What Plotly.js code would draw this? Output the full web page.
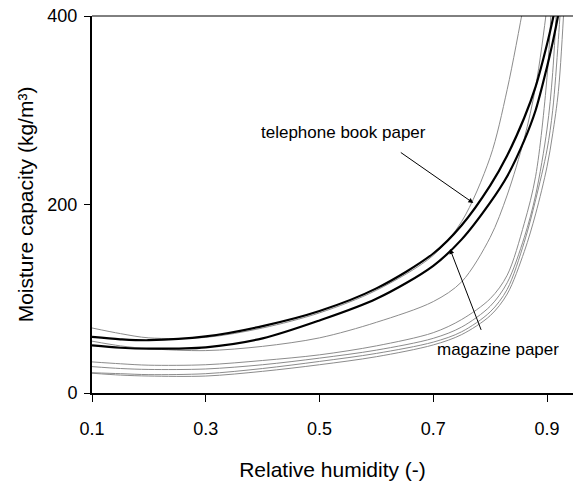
<!DOCTYPE html>
<html>
<head>
<meta charset="utf-8">
<script src="https://cdn.plot.ly/plotly-3.0.1.min.js"></script>
<style>
  html, body { margin: 0; padding: 0; background: #ffffff; }
  #chart { width: 573px; height: 485px; }
</style>
</head>
<body>
<div id="chart"></div>
<script>
// Relative humidity grid shared by all curves
const rh = [0.1, 0.15, 0.2, 0.3, 0.4, 0.5, 0.6, 0.7, 0.75, 0.8, 0.83, 0.86, 0.88, 0.9, 0.91, 0.92, 0.93, 0.94];

// Moisture capacity (kg/m³) of the two highlighted papers
const telephoneBook = [59.5, 57, 56, 60, 71, 87, 111, 148, 178, 220, 252, 292, 325, 370, 396, 425, 458, 495];
const magazine      = [50.5, 48, 47, 48.5, 58, 77, 100, 135, 163, 202, 230, 268, 300, 346, 372, 402, 436, 472];

// Other paper grades
const paperG1 = [69, 63, 58.5, 59, 69, 85, 109, 146, 182, 250, 322, 415, 480, null, null, null, null, null];
const paperG2 = [55, 50, 47, 45, 49.5, 58.5, 75, 97, 118, 165, 210, 270, 325, 410, 470, null, null, null];
const paperL1 = [33, 31, 29.5, 30, 34.5, 40.5, 50, 64, 78, 100, 125, 180, 230, 335, 440, null, null, null];
const paperL2 = [28, 26, 25, 25.5, 30, 37, 45.5, 58, 70, 92, 117, 165, 210, 280, 340, 450, null, null];
const paperL3 = [21.5, 20.5, 19.5, 20.5, 26, 33.5, 42, 54, 65, 86, 110, 160, 205, 258, 300, 375, 470, null];
const paperL4 = [21, 19, 18, 18, 23, 30, 38.5, 51, 62, 82, 105, 150, 190, 240, 275, 320, 410, 520];

const xTicks = [0.1, 0.3, 0.5, 0.7, 0.9];
const yTicks = [0, 200, 400];

const FONT = 'Liberation Sans, Arial, sans-serif';

function curve(y, color, width) {
  return {
    x: rh, y: y, type: 'scatter', mode: 'lines',
    line: { color: color, width: width, shape: 'spline', smoothing: 0.9 },
    connectgaps: false, hoverinfo: 'skip', showlegend: false
  };
}

const data = [
  curve(paperG1, '#8c8c8c', 1),
  curve(paperG2, '#8c8c8c', 1),
  curve(paperL1, '#8c8c8c', 1),
  curve(paperL2, '#8c8c8c', 1),
  curve(paperL3, '#8c8c8c', 1),
  curve(paperL4, '#8c8c8c', 1),
  curve(telephoneBook, '#000000', 2.2),
  curve(magazine, '#000000', 2.2)
];

const layout = {
  width: 573, height: 485,
  margin: { l: 92, r: 0, t: 16, b: 92 },
  paper_bgcolor: '#ffffff', plot_bgcolor: '#ffffff',
  font: { family: FONT, color: '#000000' },
  xaxis: {
    range: [0.1, 0.9457],
    tickvals: xTicks, ticktext: xTicks.map(v => v.toFixed(1)),
    ticks: 'outside', ticklen: 7, tickwidth: 1, tickcolor: '#000000',
    ticklabelstandoff: 11,
    showline: true, linecolor: '#000000', linewidth: 2,
    showgrid: false, zeroline: false,
    tickfont: { family: FONT, size: 18, color: '#000000' },
    title: { text: 'Relative humidity (-)', font: { family: FONT, size: 21, color: '#000000' }, standoff: 25 }
  },
  yaxis: {
    range: [0, 400],
    tickvals: yTicks,
    ticks: 'outside', ticklen: 6, tickwidth: 1, tickcolor: '#000000',
    ticklabelstandoff: 3,
    showline: true, linecolor: '#000000', linewidth: 2,
    showgrid: false, zeroline: false,
    tickfont: { family: FONT, size: 18, color: '#000000' },
    title: { text: 'Moisture capacity (kg/m³)', font: { family: FONT, size: 21, color: '#000000' }, standoff: 8 }
  },
  shapes: [
    { type: 'line', xref: 'paper', yref: 'paper', x0: 0, x1: 1, y0: 1, y1: 1,
      line: { color: '#000000', width: 1 } }
  ],
  annotations: [
    { x: 0.543, y: 276, xref: 'x', yref: 'y', text: 'telephone book paper', showarrow: false,
      xanchor: 'center', yanchor: 'middle', font: { family: FONT, size: 17, color: '#000000' } },
    { x: 0.7704, y: 201.6, ax: 0.6403, ay: 256.3, xref: 'x', yref: 'y', axref: 'x', ayref: 'y',
      text: '', showarrow: true, arrowhead: 2, arrowsize: 1, arrowwidth: 1, arrowcolor: '#000000' },
    { x: 0.813, y: 46, xref: 'x', yref: 'y', text: 'magazine paper', showarrow: false,
      xanchor: 'center', yanchor: 'middle', font: { family: FONT, size: 17, color: '#000000' } },
    { x: 0.7294, y: 152.8, ax: 0.7852, ay: 65.4, xref: 'x', yref: 'y', axref: 'x', ayref: 'y',
      text: '', showarrow: true, arrowhead: 2, arrowsize: 1, arrowwidth: 1, arrowcolor: '#000000' }
  ]
};

Plotly.newPlot('chart', data, layout, { displayModeBar: false, staticPlot: true });
</script>
</body>
</html>
